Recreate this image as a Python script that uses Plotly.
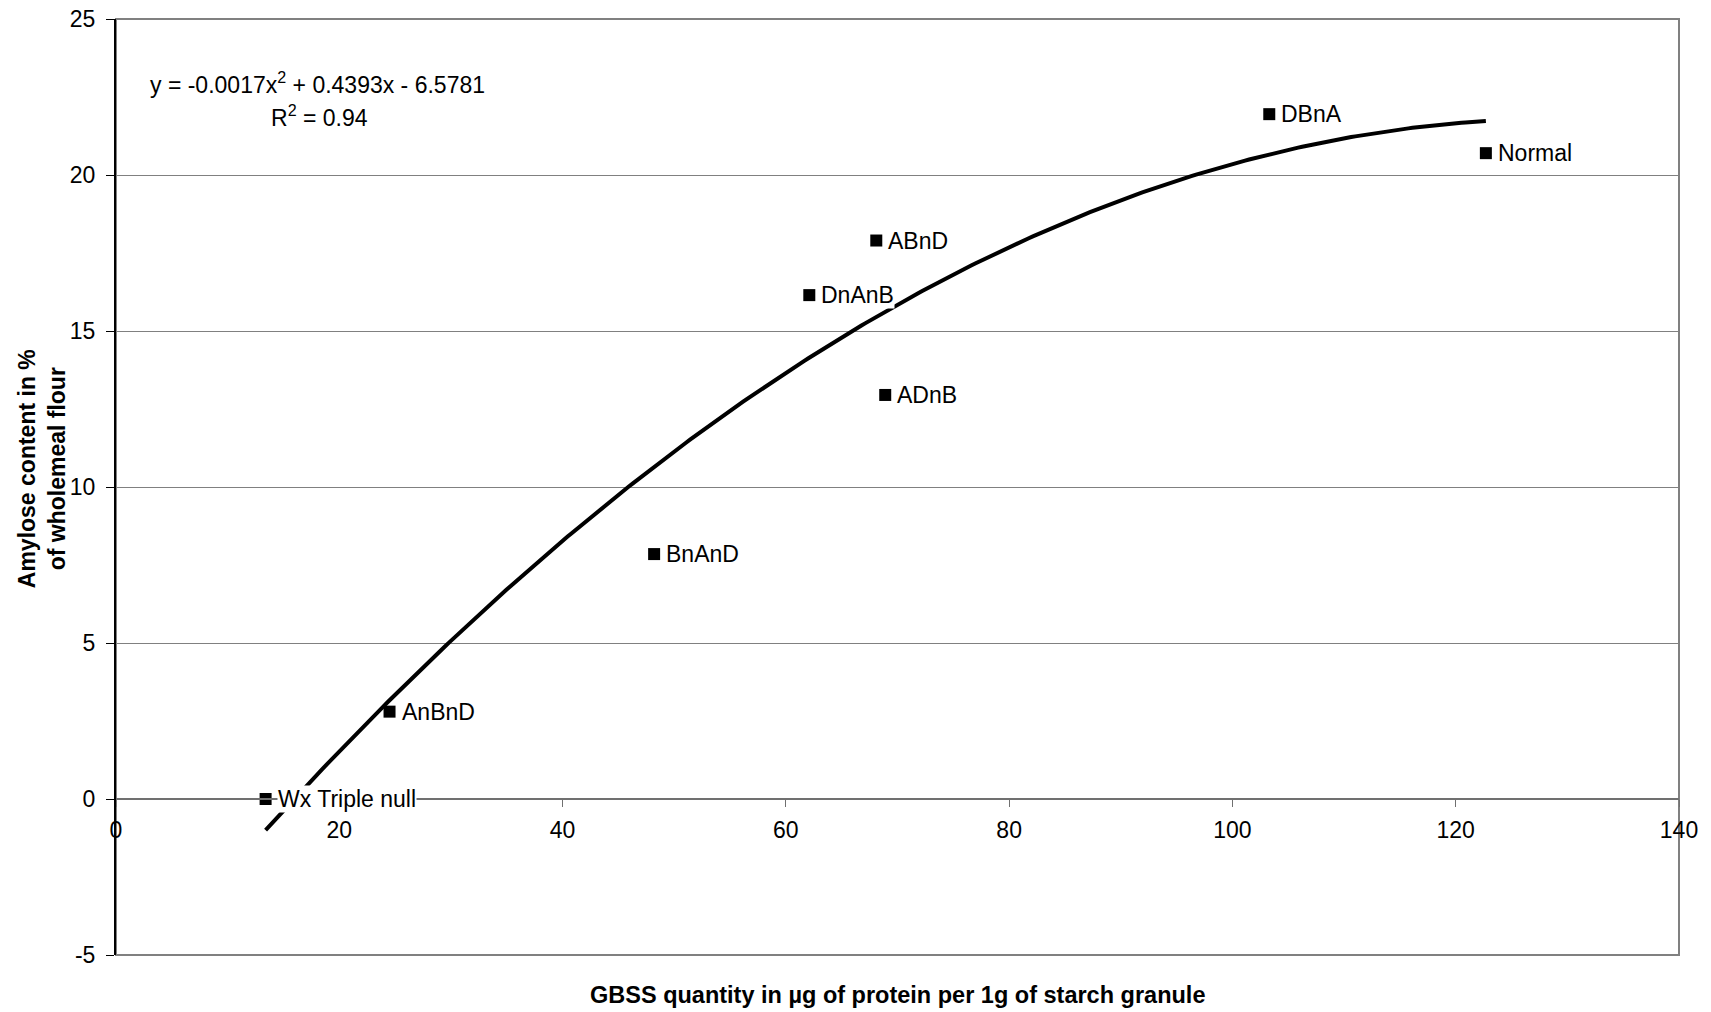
import numpy as np
import plotly.graph_objects as go

# ---- data ----
labels = ["Wx Triple null", "AnBnD", "BnAnD", "DnAnB", "ABnD", "ADnB", "DBnA", "Normal"]
gbss = [13.4, 24.5, 48.2, 62.1, 68.1, 68.9, 103.3, 122.7]
amylose = [0.0, 2.8, 7.85, 16.15, 17.9, 12.95, 21.95, 20.7]
trend_coef = [-0.0017, 0.4393, -6.5781]  # printed trendline equation
equation_line1 = "y = -0.0017x<sup>2</sup> + 0.4393x - 6.5781"
equation_line2 = "R<sup>2</sup> = 0.94"
x_title = "GBSS quantity in µg of protein per 1g of starch granule"
y_title = "Amylose content in %<br>of wholemeal flour"
y_tickvals = [-5, 0, 5, 10, 15, 20, 25]
y_ticktext = ["-5", "0", "5", "10", "15", "20", "25"]

FONT = "Liberation Sans, Arial, sans-serif"
FS = 23

tx = np.linspace(min(gbss), max(gbss), 300)
ty = np.polyval(trend_coef, tx)

fig = go.Figure()
fig.add_trace(go.Scatter(x=tx, y=ty, mode="lines",
                         line=dict(color="black", width=4), hoverinfo="skip"))
fig.add_trace(go.Scatter(x=gbss, y=amylose, mode="markers",
                         marker=dict(symbol="square", size=12, color="black")))

for lab, xv, yv in zip(labels, gbss, amylose):
    fig.add_annotation(x=xv, y=yv, xref="x", yref="y", text=lab, showarrow=False,
                       xanchor="left", yanchor="middle", xshift=11,
                       bgcolor="white", borderpad=0,
                       font=dict(family=FONT, size=FS, color="black"))

fig.add_annotation(x=0.1289, y=0.932, xref="paper", yref="paper", text=equation_line1,
                   showarrow=False, xanchor="center", yanchor="middle",
                   font=dict(family=FONT, size=FS, color="black"))
fig.add_annotation(x=0.1299, y=0.896, xref="paper", yref="paper", text=equation_line2,
                   showarrow=False, xanchor="center", yanchor="middle",
                   font=dict(family=FONT, size=FS, color="black"))

fig.add_annotation(x=0.5, y=-0.0427, xref="paper", yref="paper", text="<b>" + x_title + "</b>",
                   showarrow=False, xanchor="center", yanchor="middle",
                   font=dict(family=FONT, size=23.5, color="black"))

fig.add_annotation(x=0, y=0.519, xref="paper", yref="paper", text="<b>" + y_title + "</b>",
                   showarrow=False, xanchor="center", yanchor="middle", textangle=-90,
                   xshift=-74, align="center",
                   font=dict(family=FONT, size=FS, color="black"))

# plot frame (top, right, bottom)
fig.add_shape(type="rect", xref="paper", yref="paper", x0=0, x1=1, y0=0, y1=1,
              line=dict(color="#808080", width=2), layer="below")

fig.update_layout(
    width=1711, height=1012,
    margin=dict(l=116, r=32, t=19, b=57, autoexpand=False),
    paper_bgcolor="white", plot_bgcolor="white",
    showlegend=False,
    font=dict(family=FONT, size=FS, color="black"),
    xaxis=dict(range=[0, 140], dtick=20, tick0=0, showgrid=False, zeroline=False,
               showline=True, linecolor="#707070", linewidth=1.5, automargin=False,
               ticks="outside", ticklen=7, tickcolor="#707070", tickwidth=1,
               anchor="free", position=5 / 30, ticklabelstandoff=4,
               tickfont=dict(family=FONT, size=FS, color="black")),
    yaxis=dict(range=[-5, 25], tickmode="array", tickvals=y_tickvals, ticktext=y_ticktext,
               showgrid=True, gridcolor="#808080", automargin=False,
               gridwidth=1, zeroline=False, showline=True, linecolor="black", linewidth=2,
               ticks="outside", ticklen=8, tickcolor="black", ticklabelstandoff=6,
               tickfont=dict(family=FONT, size=FS, color="black")),
)

fig.write_html("out.html", config={"displayModeBar": False},
               post_script="document.body.style.margin='0px';document.body.style.overflow='hidden';")
